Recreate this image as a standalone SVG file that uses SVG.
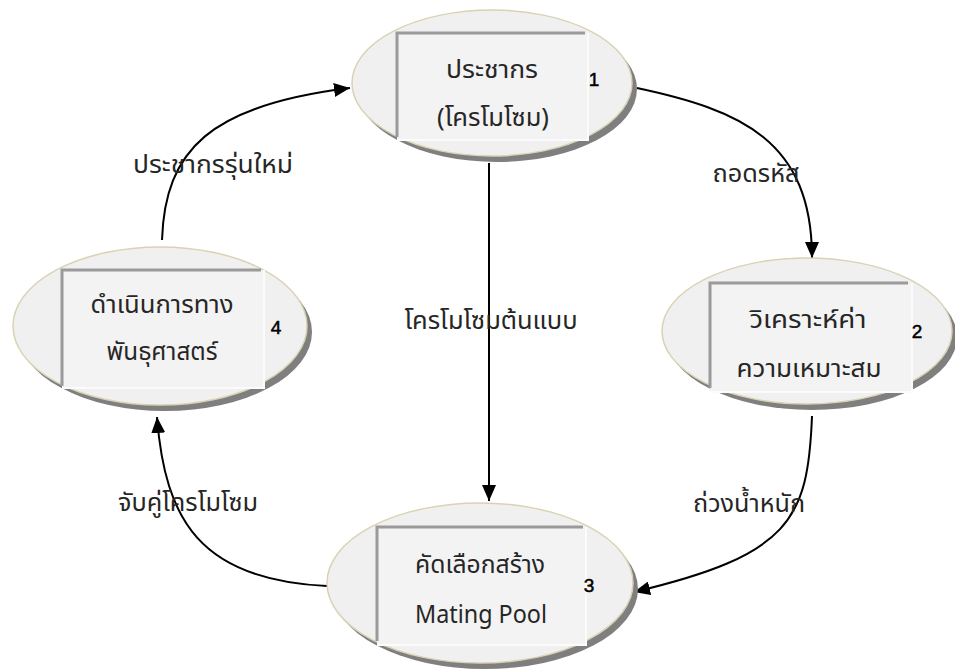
<svg xmlns="http://www.w3.org/2000/svg" width="955" height="669" viewBox="0 0 955 669">
<style>
.sh{fill:#7f7f7f}
.el{fill:#f0f0f0;stroke:#d9d2b4;stroke-width:1.5}
.box{fill:#f3f3f3}
.bx{fill:none;stroke:#9a9a9a;stroke-width:3}
.bl{fill:none;stroke:#fbfbfb;stroke-width:2}
.t{font-family:"Noto Sans Thai","Noto Sans","DejaVu Sans",sans-serif;font-size:25px;fill:#262626;text-anchor:middle}
.n{font-family:"Liberation Sans",Arial,sans-serif;font-size:19px;fill:#000;stroke:#000;stroke-width:0.5;text-anchor:middle}
.c{fill:none;stroke:#000;stroke-width:2}
</style>
<defs>
<marker id="ah" markerUnits="userSpaceOnUse" markerWidth="18" markerHeight="14" refX="16" refY="7" orient="auto">
<path d="M0,0 L16,7 L0,14 Z" fill="#000"/>
</marker>
</defs>
<rect width="955" height="669" fill="#fff"/>
<g id="connectors">
<path class="c" d="M162,240 C165,150 210,105 350,88" marker-end="url(#ah)"/>
<path class="c" d="M637,88 C740,110 812,140 812,258" marker-end="url(#ah)"/>
<path class="c" d="M489,163 L489,501" marker-end="url(#ah)"/>
<path class="c" d="M812,416 C808,520 790,555 634,592" marker-end="url(#ah)"/>
<path class="c" d="M327,586 C200,580 165,520 157,417" marker-end="url(#ah)"/>
<text class="t" x="213" y="173" textLength="160" lengthAdjust="spacingAndGlyphs">ประชากรรุ่นใหม่</text>
<text class="t" x="756" y="182" textLength="87" lengthAdjust="spacingAndGlyphs">ถอดรหัส</text>
<text class="t" x="491" y="329" textLength="173" lengthAdjust="spacingAndGlyphs">โครโมโซมต้นแบบ</text>
<text class="t" x="749" y="512" textLength="112" lengthAdjust="spacingAndGlyphs">ถ่วงน้ำหนัก</text>
<text class="t" x="188" y="511" textLength="140" lengthAdjust="spacingAndGlyphs">จับคู่โครโมโซม</text>
</g>
<g id="node1">
<ellipse class="sh" cx="497" cy="89" rx="140" ry="73"/>
<ellipse class="el" cx="492" cy="83" rx="140" ry="73"/>
<rect class="box" x="397" y="33" width="191" height="107"/>
<path class="bl" d="M588,33 V140 H397"/>
<path class="bx" d="M397,137 V33 H585"/>
<text class="t" x="492" y="78" textLength="92" lengthAdjust="spacingAndGlyphs">ประชากร</text>
<text class="t" x="493" y="126" textLength="112" lengthAdjust="spacingAndGlyphs">(โครโมโซม)</text>
<text class="n" x="594" y="86">1</text>
</g>
<g id="node2">
<ellipse class="sh" cx="812" cy="337" rx="145" ry="73"/>
<ellipse class="el" cx="807" cy="331" rx="145" ry="73"/>
<rect class="box" x="710" y="283" width="202" height="109"/>
<path class="bl" d="M912,283 V392 H710"/>
<path class="bx" d="M710,388 V283 H908"/>
<text class="t" x="808" y="328" textLength="117" lengthAdjust="spacingAndGlyphs">วิเคราะห์ค่า</text>
<text class="t" x="809" y="377" textLength="145" lengthAdjust="spacingAndGlyphs">ความเหมาะสม</text>
<text class="n" x="917" y="338">2</text>
</g>
<g id="node3">
<ellipse class="sh" cx="485" cy="589" rx="153" ry="80"/>
<ellipse class="el" cx="480" cy="583" rx="153" ry="80"/>
<rect class="box" x="377" y="527" width="209" height="118"/>
<path class="bl" d="M586,527 V645 H377"/>
<path class="bx" d="M377,641 V527 H583"/>
<text class="t" x="480" y="573" textLength="130" lengthAdjust="spacingAndGlyphs">คัดเลือกสร้าง</text>
<text class="t" x="481" y="623" textLength="132" lengthAdjust="spacingAndGlyphs">Mating Pool</text>
<text class="n" x="589" y="592">3</text>
</g>
<g id="node4">
<ellipse class="sh" cx="165" cy="332" rx="147" ry="79"/>
<ellipse class="el" cx="160" cy="326" rx="147" ry="79"/>
<rect class="box" x="62" y="270" width="202" height="118"/>
<path class="bl" d="M264,270 V388 H62"/>
<path class="bx" d="M62,386 V270 H261"/>
<text class="t" x="162" y="313" textLength="143" lengthAdjust="spacingAndGlyphs">ดำเนินการทาง</text>
<text class="t" x="162" y="360" textLength="111" lengthAdjust="spacingAndGlyphs">พันธุศาสตร์</text>
<text class="n" x="276" y="334">4</text>
</g>
</svg>
